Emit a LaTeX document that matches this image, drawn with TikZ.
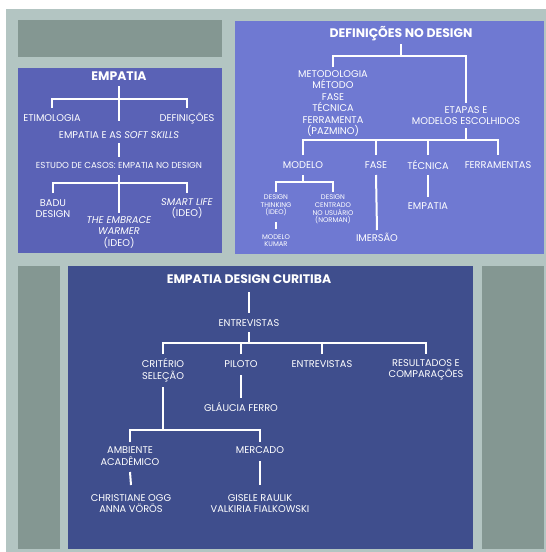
\documentclass[tikz,border=0pt]{standalone}
\usepackage{fontspec}
\setmainfont{Poppins}
\definecolor{panel}{HTML}{B3C5C2}
\definecolor{greyblk}{HTML}{849792}
\definecolor{empblue}{HTML}{5A62B6}
\definecolor{defblue}{HTML}{6F79D2}
\definecolor{botblue}{HTML}{3F4E8D}
\begin{document}
\begin{tikzpicture}[x=1pt,y=-1pt,
  lbl/.style={text=white,inner sep=0pt,align=center,font=\fontsize{9.8}{11.5}\selectfont},
  ttl/.style={text=white,inner sep=0pt,align=center,font=\fontsize{12.4}{14}\selectfont\bfseries},
  sml/.style={text=white,inner sep=0pt,align=center,font=\fontsize{8.7}{9}\selectfont},
  tny/.style={text=white,inner sep=0pt,align=center,font=\fontsize{6.8}{7.6}\selectfont},
  conn/.style={draw=white,line width=2pt}]
\useasboundingbox (0,0) rectangle (546,552);
\fill[white] (0,0) rectangle (546,552);
\fill[panel] (6,9) rectangle (546,552);
\fill[greyblk] (18,20) rectangle (222,57);
\fill[empblue] (18,68) rectangle (222,253);
\fill[defblue] (235,21) rectangle (544,254);
\fill[greyblk] (18,266) rectangle (60,549);
\fill[botblue] (68,266) rectangle (473,549);
\fill[greyblk] (482,266) rectangle (544,549);

% ---------- EMPATIA ----------
\node[ttl] (emp) at (119,76) {EMPATIA};
\node[lbl] (etim) at (52,118.5) {ETIMOLOGIA};
\node[lbl] (defs) at (187,118.5) {DEFINIÇÕES};
\node[lbl] (soft) at (119,135) {EMPATIA E AS \textit{SOFT SKILLS}};
\node[sml] (estudo) at (119,165) {ESTUDO DE CASOS: EMPATIA NO DESIGN};
\node[lbl] (badu) at (53,208.5) {BADU\\DESIGN};
\node[lbl] (embrace) at (119,232) {\textit{THE EMBRACE}\\\textit{WARMER}\\(IDEO)};
\node[lbl] (smart) at (187,208.5) {\textit{SMART LIFE}\\(IDEO)};
\coordinate (b1) at (119,99);
\coordinate (b2) at (119,183);
\draw[conn] ([yshift=-10pt]emp.center) -- ([yshift=14pt]soft.center);
\draw[conn] ([yshift=10.5pt]etim.center) |- (b1) -| ([yshift=10.5pt]defs.center);
\draw[conn] ([yshift=-8pt]soft.center) -- ([yshift=8pt]estudo.center);
\draw[conn] ([yshift=-10pt]estudo.center) -- ([yshift=19pt]embrace.center);
\draw[conn] ([yshift=15.5pt]badu.center) |- (b2) -| ([yshift=15.5pt]smart.center);

% ---------- DEFINICOES ----------
\node[ttl] (dtitle) at (401,34) {DEFINIÇÕES NO DESIGN};
\node[lbl] (metod) at (333,103.5) {METODOLOGIA\\MÉTODO\\FASE\\TÉCNICA\\FERRAMENTA\\(PAZMINO)};
\node[lbl] (etapas) at (466,115.5) {ETAPAS E\\MODELOS ESCOLHIDOS};
\node[lbl] (modelo) at (303,165) {MODELO};
\node[lbl] (fase) at (376,165) {FASE};
\node[lbl] (tecnica) at (428,165) {TÉCNICA};
\node[lbl] (ferr) at (498,165) {FERRAMENTAS};
\node[tny] (dt) at (276,205.5) {DESIGN\\THINKING\\(IDEO)};
\node[tny] (dcu) at (333,209.5) {DESIGN\\CENTRADO\\NO USUÁRIO\\(NORMAN)};
\node[tny] (kumar) at (276,240.5) {MODELO\\KUMAR};
\node[lbl] (emp2) at (428,206) {EMPATIA};
\node[lbl] (imersao) at (377,237) {IMERSÃO};
\coordinate (b3) at (401,56);
\coordinate (b4) at (466,140);
\coordinate (b5) at (303,182);
\draw[conn] ([yshift=-10pt]dtitle.center) -- (b3);
\draw[conn] ([yshift=36.5pt]metod.center) |- (b3) -| ([yshift=12.5pt]etapas.center);
\draw[conn] ([yshift=-12.5pt]etapas.center) -- (b4);
\draw[conn] ([yshift=10pt]modelo.center) |- (b4) -| ([yshift=10pt]ferr.center);
\draw[conn] ([yshift=10pt]fase.center) -- (fase.center |- b4);
\draw[conn] ([yshift=10pt]tecnica.center) -- (tecnica.center |- b4);
\draw[conn] ([yshift=-10pt]modelo.center) -- (b5);
\draw[conn] ([yshift=13.5pt]dt.center) |- (b5) -| ([yshift=17.5pt]dcu.center);
\draw[conn] ([yshift=-10pt]fase.center) -- ([yshift=7pt]imersao.center);
\draw[conn] ([yshift=-10pt]tecnica.center) -- ([yshift=9pt]emp2.center);
\draw[conn] ([yshift=-16.5pt]dt.center) -- ([yshift=11.5pt]kumar.center);

% ---------- EMPATIA DESIGN CURITIBA ----------
\node[ttl] (btitle) at (249,279) {EMPATIA DESIGN CURITIBA};
\node[lbl] (entr) at (249,323) {ENTREVISTAS};
\node[lbl] (crit) at (163,370) {CRITÉRIO\\SELEÇÃO};
\node[lbl] (piloto) at (241,364) {PILOTO};
\node[lbl] (entr2) at (322,364) {ENTREVISTAS};
\node[lbl] (result) at (426,370) {RESULTADOS E\\COMPARAÇÕES};
\node[lbl] (glaucia) at (241,407) {GLÁUCIA FERRO};
\node[lbl] (amb) at (130,456) {AMBIENTE\\ACADÊMICO};
\node[lbl] (merc) at (260,450) {MERCADO};
\node[lbl] (christ) at (131,503.5) {CHRISTIANE OGG\\ANNA VÖRÖS};
\node[lbl] (gisele) at (260,503.5) {GISELE RAULIK\\VALKIRIA FIALKOWSKI};
\coordinate (b6) at (249,343);
\coordinate (b7) at (163,430);
\draw[conn] ([yshift=-13pt]btitle.center) -- ([yshift=10pt]entr.center);
\draw[conn] ([yshift=-9pt]entr.center) -- (b6);
\draw[conn] ([yshift=16pt]crit.center) |- (b6) -| ([yshift=16pt]result.center);
\draw[conn] ([yshift=10pt]piloto.center) -- (piloto.center |- b6);
\draw[conn] ([yshift=10pt]entr2.center) -- (entr2.center |- b6);
\draw[conn] ([yshift=-11pt]piloto.center) -- ([yshift=9pt]glaucia.center);
\draw[conn] ([yshift=-17pt]crit.center) -- (b7);
\draw[conn] ([yshift=14pt]amb.center) |- (b7) -| ([yshift=8pt]merc.center);
\draw[conn] ([yshift=-16pt]amb.center) -- ([yshift=18.5pt]christ.center);
\draw[conn] ([yshift=-11pt]merc.center) -- ([yshift=18.5pt]gisele.center);
\end{tikzpicture}
\end{document}
